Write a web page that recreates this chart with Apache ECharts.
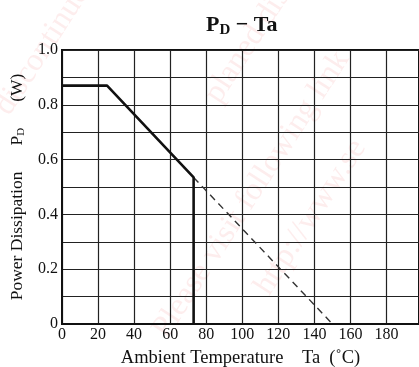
<!DOCTYPE html>
<html>
<head>
<meta charset="utf-8">
<script src="https://cdn.jsdelivr.net/npm/echarts@6/dist/echarts.min.js"></script>
<style>
  html, body { margin: 0; padding: 0; background: #fff; }
  #chart { width: 419px; height: 367px; }
</style>
</head>
<body>
<div id="chart"></div>
<script>
// derating curve
const taSolid = [0, 25, 73, 73]
const pdSolid = [0.87, 0.87, 0.535, 0]
// dashed extension of the slope down to zero
const taDashed = [73, 150]
const pdDashed = [0.535, 0]

const xTickLabels = ['0', '20', '40', '60', '80', '100', '120', '140', '160', '180']
const yTickLabels = ['0', '0.2', '0.4', '0.6', '0.8', '1.0']

const watermarks = ['discontinued', 'planed discontinued', 'Please visit following link', 'http://www.se']

const serif = '"Liberation Serif", "DejaVu Serif", serif'
const ink = '#111'

const pairs = (xs, ys) => xs.map((x, i) => [x, ys[i]])

const chart = echarts.init(document.getElementById('chart'))

const wmText = (text, x, y) => ({
  type: 'text',
  x: x,
  y: y,
  rotation: Math.PI * 57 / 180,
  z: -10,
  silent: true,
  style: {
    text: text,
    fill: 'rgba(235, 110, 110, 0.12)',
    font: '32px ' + serif,
    textAlign: 'left',
    textVerticalAlign: 'middle'
  }
})

chart.setOption({
  animation: false,
  backgroundColor: '#fff',
  title: {
    text: '{p|P}{sub|D}{p| − Ta}',
    left: 201,
    top: 7,
    textStyle: {
      rich: {
        p: { fontFamily: serif, fontWeight: 'bold', fontSize: 22, lineHeight: 26, color: ink },
        sub: { fontFamily: serif, fontWeight: 'bold', fontSize: 15, lineHeight: 16, verticalAlign: 'bottom', color: ink }
      }
    }
  },
  grid: {
    left: 62,
    top: 50,
    right: 0,
    bottom: 43,
    outerBoundsMode: 'none',
    show: true,
    borderColor: ink,
    borderWidth: 2,
    backgroundColor: 'transparent'
  },
  xAxis: {
    type: 'value',
    min: 0,
    max: 198,
    interval: 20,
    name: 'Ambient Temperature    Ta  (˚C)',
    nameLocation: 'middle',
    nameGap: 25,
    nameTextStyle: { fontFamily: serif, fontSize: 18.5, color: ink },
    axisLine: { show: true, lineStyle: { color: ink, width: 2 } },
    axisTick: { show: false },
    axisLabel: {
      margin: 3,
      fontFamily: serif,
      fontSize: 16,
      color: ink,
      showMaxLabel: false,
      formatter: v => (v % 20 === 0 && xTickLabels[v / 20] !== undefined) ? xTickLabels[v / 20] : ''
    },
    splitLine: { show: true, lineStyle: { color: '#222', width: 1.2 } }
  },
  yAxis: {
    type: 'value',
    min: 0,
    max: 1,
    interval: 0.1,
    name: '{t|Power Dissipation}{g| }{t|P}{sub|D}{g| }{t|(W)}',
    nameLocation: 'middle',
    nameGap: 32,
    nameTextStyle: {
      fontFamily: serif,
      fontSize: 17.5,
      color: ink,
      rich: {
        t: { fontFamily: serif, fontSize: 17.5, lineHeight: 20, color: ink },
        g: { width: 26, fontSize: 17.5, lineHeight: 20 },
        sub: { fontFamily: serif, fontSize: 11, lineHeight: 12, verticalAlign: 'bottom', color: ink }
      }
    },
    axisLine: { show: true, lineStyle: { color: ink, width: 2 } },
    axisTick: { show: false },
    axisLabel: {
      margin: 4,
      fontFamily: serif,
      fontSize: 16,
      color: ink,
      formatter: v => {
        const k = Math.round(v * 10)
        return k % 2 === 0 ? yTickLabels[k / 2] : ''
      }
    },
    splitLine: { show: true, lineStyle: { color: '#222', width: 1.2 } }
  },
  graphic: [
    wmText(watermarks[0], 2, 112),
    wmText(watermarks[1], 212, 100),
    wmText(watermarks[2], 160, 335),
    wmText(watermarks[3], 262, 292)
  ],
  series: [
    {
      type: 'line',
      data: pairs(taSolid, pdSolid),
      showSymbol: false,
      lineStyle: { color: ink, width: 2.6 },
      z: 5
    },
    {
      type: 'line',
      data: pairs(taDashed, pdDashed),
      showSymbol: false,
      lineStyle: { color: '#333', width: 1.4, type: [7, 5] },
      z: 4
    }
  ]
})
</script>
</body>
</html>
